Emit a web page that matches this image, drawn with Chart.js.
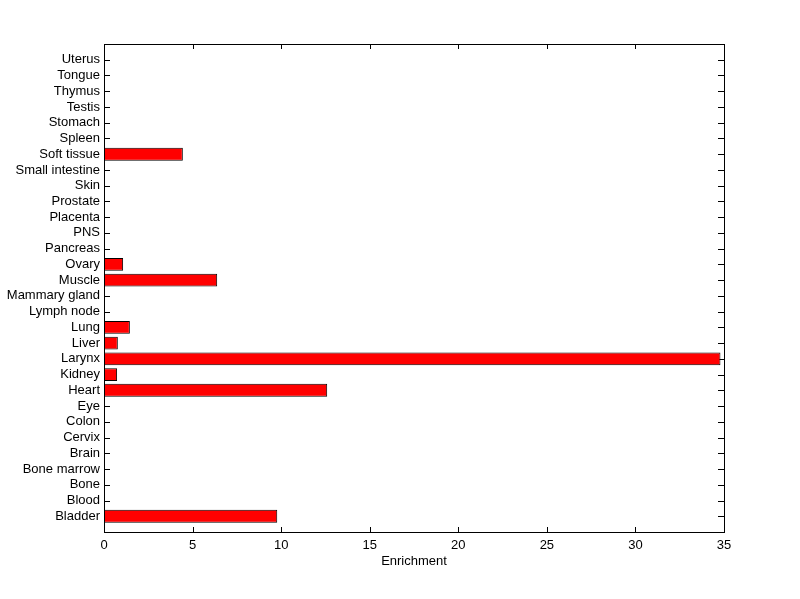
<!DOCTYPE html>
<html>
<head>
<meta charset="utf-8">
<script src="https://cdn.jsdelivr.net/npm/chart.js@4"></script>
<style>
  body { margin: 0; background: #fff; }
</style>
</head>
<body>
<canvas id="myChart" width="800" height="599"></canvas>
<script>
// tissues, bottom to top as in the figure
const tissues = ['Bladder', 'Blood', 'Bone', 'Bone marrow', 'Brain', 'Cervix', 'Colon', 'Eye',
    'Heart', 'Kidney', 'Larynx', 'Liver', 'Lung', 'Lymph node', 'Mammary gland', 'Muscle',
    'Ovary', 'Pancreas', 'PNS', 'Placenta', 'Prostate', 'Skin', 'Small intestine',
    'Soft tissue', 'Spleen', 'Stomach', 'Testis', 'Thymus', 'Tongue', 'Uterus'];
const enrichment = [9.78, 0, 0, 0, 0, 0, 0, 0,
    12.6, 0.74, 34.8, 0.78, 1.46, 0, 0, 6.39,
    1.08, 0, 0, 0, 0, 0, 0,
    4.45, 0, 0, 0, 0, 0, 0];
const xTicks = [0, 5, 10, 15, 20, 25, 30, 35];

Chart.defaults.font.family = '"Liberation Sans", Arial, sans-serif';
Chart.defaults.font.size = 13;
Chart.defaults.color = '#000';

// matlab style inward ticks (under the bars) and the box (on top)
const boxTicks = {
    id: 'boxTicks',
    beforeDatasetsDraw(chart) {
        const ctx = chart.ctx;
        const a = chart.chartArea;
        const x = chart.scales.x;
        const y = chart.scales.y;
        ctx.save();
        ctx.strokeStyle = '#000';
        ctx.lineWidth = 1;
        ctx.beginPath();
        x.ticks.forEach(function(t, i) {
            const px = Math.round(x.getPixelForTick(i)) + 0.5;
            ctx.moveTo(px, a.bottom);
            ctx.lineTo(px, a.bottom - 5);
            ctx.moveTo(px, a.top);
            ctx.lineTo(px, a.top + 5);
        });
        y.ticks.forEach(function(t, i) {
            const py = Math.round(y.getPixelForTick(i)) + 0.5;
            ctx.moveTo(a.left, py);
            ctx.lineTo(a.left + 6, py);
            ctx.moveTo(a.right, py);
            ctx.lineTo(a.right - 6, py);
        });
        ctx.stroke();
        ctx.restore();
    },
    afterDraw(chart) {
        const ctx = chart.ctx;
        const a = chart.chartArea;
        ctx.save();
        ctx.strokeStyle = '#000';
        ctx.lineWidth = 1;
        ctx.strokeRect(Math.round(a.left) + 0.5, Math.round(a.top) + 0.5,
            Math.round(a.right - a.left), Math.round(a.bottom - a.top));
        ctx.restore();
    }
};

const ctx = document.getElementById('myChart').getContext('2d');
const myChart = new Chart(ctx, {
    type: 'bar',
    data: {
        datasets: [{
            label: 'Enrichment',
            data: enrichment.map(function(v, i) { return { x: v, y: i + 1 }; }),
            backgroundColor: '#ff0000',
            borderColor: '#000',
            borderWidth: function(c) { return c.raw && c.raw.x > 0 ? 1 : 0; },
            borderSkipped: false,
            barPercentage: 0.82,
            categoryPercentage: 1.0
        }]
    },
    options: {
        indexAxis: 'y',
        responsive: false,
        animation: false,
        layout: { padding: { left: 0, top: 44, right: 76, bottom: 30 } },
        plugins: {
            legend: { display: false },
            tooltip: { enabled: false }
        },
        scales: {
            x: {
                type: 'linear',
                min: 0,
                max: 35,
                afterBuildTicks: function(scale) {
                    scale.ticks = xTicks.map(function(v) { return { value: v }; });
                },
                afterFit: function(scale) { scale.height = 37; },
                grid: { display: false, drawTicks: false },
                border: { display: false },
                ticks: { padding: 6 },
                title: { display: true, text: 'Enrichment', padding: { top: 2, bottom: 0 } }
            },
            y: {
                type: 'linear',
                offset: false,
                min: 0,
                max: tissues.length + 1,
                afterBuildTicks: function(scale) {
                    scale.ticks = tissues.map(function(t, i) { return { value: i + 1 }; });
                },
                afterFit: function(scale) { scale.width = 104; },
                grid: { display: false, drawTicks: false, offset: false },
                border: { display: false },
                ticks: {
                    padding: 4,
                    autoSkip: false,
                    callback: function(v) { return tissues[v - 1]; }
                }
            }
        }
    },
    plugins: [boxTicks]
});
</script>
</body>
</html>
